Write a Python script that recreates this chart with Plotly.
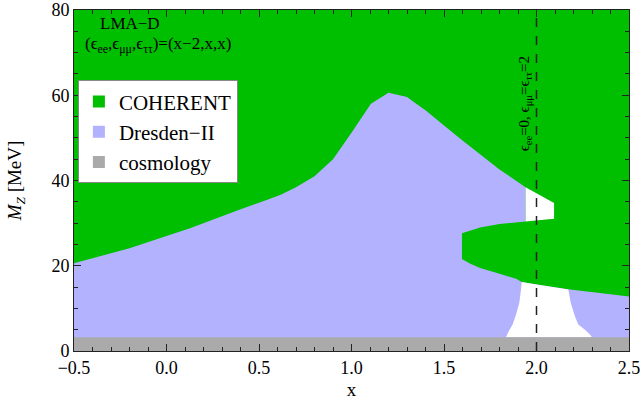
import plotly.graph_objects as go

# Upper edge of the Dresden-II allowed band (x, M_Z in MeV)
dresden_top_x = [-0.5, -0.2, 0.0, 0.127, 0.379, 0.541, 0.614, 0.695, 0.80, 0.90, 1.0, 1.105, 1.20, 1.30, 1.35, 1.40, 1.50, 1.60, 1.70, 1.80, 1.941]
dresden_top_m = [20.6, 24.1, 27.0, 28.8, 32.9, 35.4, 36.6, 38.3, 41.0, 45.0, 51.2, 58.0, 60.6, 59.6, 58.0, 56.5, 52.9, 49.4, 46.0, 42.6, 38.4]

# COHERENT island cutting into the Dresden-II band
island_top_x = [1.597, 1.695, 1.80, 1.941, 2.095]
island_top_m = [27.6, 29.0, 29.8, 30.4, 31.0]
island_bot_x = [1.597, 1.64, 1.695, 1.80, 1.893, 1.92, 2.0, 2.18, 2.343, 2.5]
island_bot_m = [21.6, 20.5, 19.5, 18.1, 16.9, 16.2, 15.6, 14.4, 13.6, 12.8]

# Allowed windows (white) near x = 2
gap_x = [1.941, 2.095, 2.095, 1.941]
gap_m = [38.4, 34.7, 31.0, 30.4]
window_x = [1.835, 1.849, 1.871, 1.889, 1.907, 1.914, 1.92, 2.0, 2.172, 2.185, 2.208, 2.226, 2.262, 2.289, 2.30]
window_m = [3.2, 4.6, 6.2, 8.5, 11.3, 13.6, 16.2, 15.6, 14.4, 11.3, 8.1, 6.2, 5.0, 3.9, 3.2]

# Cosmology bound on M_Z
cosmo_bound = 3.2

x_range = [-0.5, 2.5]
m_range = [0, 80]
benchmark_x = 2.0

GREEN = "#00BE00"
LAVENDER = "#B2B2FF"
GRAY = "#AAAAAA"
FONT = "Liberation Serif"

fig = go.Figure()

# Dresden-II region: upper edge, down the window edge, around the island, to the bottom
lav_x = (dresden_top_x + island_top_x[:4][::-1] + island_bot_x + [x_range[1], x_range[0]])
lav_m = (dresden_top_m + island_top_m[:4][::-1] + island_bot_m + [0, 0])
fig.add_trace(go.Scatter(x=lav_x, y=lav_m, fill="toself", fillcolor=LAVENDER,
                         mode="none", showlegend=False, hoverinfo="skip"))

for wx, wm in [(gap_x, gap_m), (window_x, window_m)]:
    fig.add_trace(go.Scatter(x=wx, y=wm, fill="toself", fillcolor="white",
                             mode="none", showlegend=False, hoverinfo="skip"))

fig.add_trace(go.Scatter(x=[x_range[0], x_range[1], x_range[1], x_range[0]],
                         y=[0, 0, cosmo_bound, cosmo_bound], fill="toself",
                         fillcolor=GRAY, mode="none", showlegend=False, hoverinfo="skip"))

fig.add_trace(go.Scatter(x=[benchmark_x, benchmark_x], y=m_range, mode="lines",
                         line=dict(color="#222222", width=1.5, dash="dash"),
                         showlegend=False, hoverinfo="skip"))

# Legend entries
for name, col in [("COHERENT", GREEN), ("Dresden\u2212II", LAVENDER), ("cosmology", GRAY)]:
    fig.add_trace(go.Scatter(x=[None], y=[None], mode="markers", name=name,
                             marker=dict(symbol="square", size=12, color=col,
                                         line=dict(width=0))))

fig.add_annotation(x=-0.197, y=76.8, xref="x", yref="y", text="LMA\u2212D",
                   showarrow=False, font=dict(family=FONT, size=17, color="black"))
fig.add_annotation(x=-0.046, y=71.7, xref="x", yref="y",
                   text="(\u03f5<sub>ee</sub>,\u03f5<sub>\u03bc\u03bc</sub>,\u03f5<sub>\u03c4\u03c4</sub>)=(x\u22122,x,x)",
                   showarrow=False, font=dict(family=FONT, size=17, color="black"))
fig.add_annotation(x=benchmark_x, y=58.0, xref="x", yref="y", textangle=-90,
                   xanchor="right", xshift=-1,
                   text="\u03f5<sub>ee</sub>=0, \u03f5<sub>\u03bc\u03bc</sub>=\u03f5<sub>\u03c4\u03c4</sub>=2",
                   showarrow=False, font=dict(family=FONT, size=15, color="black"))

axis_common = dict(showgrid=False, zeroline=False, showline=True, linecolor="#222222",
                   linewidth=1, mirror="ticks", ticks="inside", tickcolor="#222222",
                   automargin=False,
                   tickfont=dict(family=FONT, size=18, color="black"))

fig.update_xaxes(range=x_range, tickvals=[-0.5, 0.0, 0.5, 1.0, 1.5, 2.0, 2.5],
                 ticktext=["\u22120.5", "0.0", "0.5", "1.0", "1.5", "2.0", "2.5"],
                 ticklen=7, minor=dict(dtick=0.1, ticklen=4, ticks="inside", tickcolor="#222222"),
                 title=dict(text="x", font=dict(family=FONT, size=19, color="black"), standoff=6),
                 **axis_common)
fig.update_yaxes(range=m_range, dtick=20, ticklen=7,
                 minor=dict(dtick=5, ticklen=4, ticks="inside", tickcolor="#222222"),
                 title=dict(text="<i>M</i><sub><i>Z</i></sub> [MeV]",
                            font=dict(family=FONT, size=19, color="black"), standoff=24),
                 **axis_common)

fig.update_layout(
    width=642, height=405,
    margin=dict(l=74, r=13, t=10, b=54, autoexpand=False),
    paper_bgcolor="white", plot_bgcolor=GREEN,
    legend=dict(x=0.007, y=0.794, xanchor="left", yanchor="top",
                bgcolor="white", bordercolor="#888888", borderwidth=1,
                font=dict(family=FONT, size=21, color="black"),
                tracegroupgap=0, itemwidth=30),
)

fig.write_html("out.html")
